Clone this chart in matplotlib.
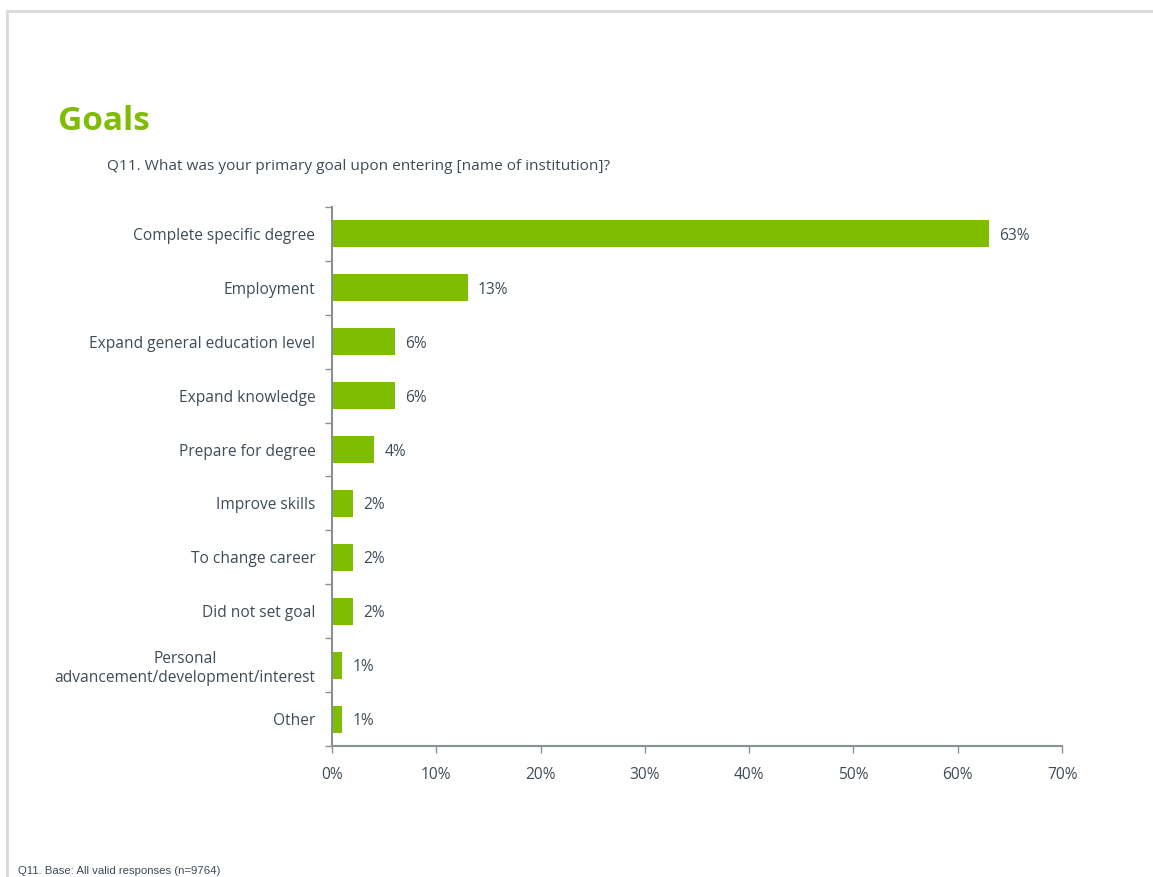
import matplotlib.pyplot as plt
from matplotlib.ticker import FixedLocator, FuncFormatter
from matplotlib.patches import Rectangle
import numpy as np

# Q11 primary goal, share of respondents (%)
categories = [
    'Complete specific degree',
    'Employment',
    'Expand general education level',
    'Expand knowledge',
    'Prepare for degree',
    'Improve skills',
    'To change career',
    'Did not set goal',
    'Personal\nadvancement/development/interest',
    'Other',
]
values = [63, 13, 6, 6, 4, 2, 2, 2, 1, 1]
xticks = [0, 10, 20, 30, 40, 50, 60, 70]

GREEN = '#7fbd03'
TEXT = '#3f4b57'
AXIS = '#8a8f94'

plt.rcParams['font.family'] = ['Open Sans', 'DejaVu Sans']

fig = plt.figure(figsize=(11.53, 8.77), dpi=100)

# slide frame
fig.patches.append(Rectangle((7 / 1153, -0.01), 1.1, 1 - 11 / 877 + 0.01,
                             transform=fig.transFigure, fill=False,
                             edgecolor='#d9d9d9', linewidth=2))

ax = fig.add_axes([332 / 1153, 1 - 746 / 877, 730 / 1153, 539 / 877])

y = np.arange(len(categories))
ax.barh(y, values, height=0.5, color=GREEN)
for yi, v in zip(y, values):
    ax.text(v + 1.0, yi, f'{v}%', va='center_baseline', ha='left',
            fontsize=11.2, color=TEXT)

ax.set_xlim(0, 70)
ax.set_ylim(len(categories) - 0.5, -0.5)
ax.xaxis.set_major_locator(FixedLocator(xticks))
ax.xaxis.set_major_formatter(FuncFormatter(lambda v, p: f'{v:.0f}%'))
ax.set_yticks(y)
ax.set_yticklabels(categories, fontsize=11.2, color=TEXT, ha='right',
                   multialignment='center', linespacing=1.25)
ax.set_yticks(np.arange(len(categories) + 1) - 0.5, minor=True)

for s in ['top', 'right']:
    ax.spines[s].set_visible(False)
for s in ['left', 'bottom']:
    ax.spines[s].set_color(AXIS)
    ax.spines[s].set_linewidth(1.5)

ax.tick_params(axis='y', which='major', length=0, pad=12)
ax.tick_params(axis='y', which='minor', length=5, color=AXIS, width=1)
ax.tick_params(axis='x', length=5, color=AXIS, width=1, labelsize=11.2,
               labelcolor=TEXT, pad=10)

fig.text(58 / 1153, 1 - 121 / 877, 'Goals', fontsize=24, fontweight='bold',
         color='#7fbd03', va='center', ha='left')
fig.text(107 / 1153, 1 - 166 / 877,
         'Q11. What was your primary goal upon entering [name of institution]?',
         fontsize=11.1, color=TEXT, va='center', ha='left')
fig.text(18 / 1153, 1 - 871 / 877, 'Q11. Base: All valid responses (n=9764)',
         fontsize=8.2, color=TEXT, va='center', ha='left',
         family=['Liberation Sans', 'DejaVu Sans'])

fig.savefig('out.png', dpi=100)
